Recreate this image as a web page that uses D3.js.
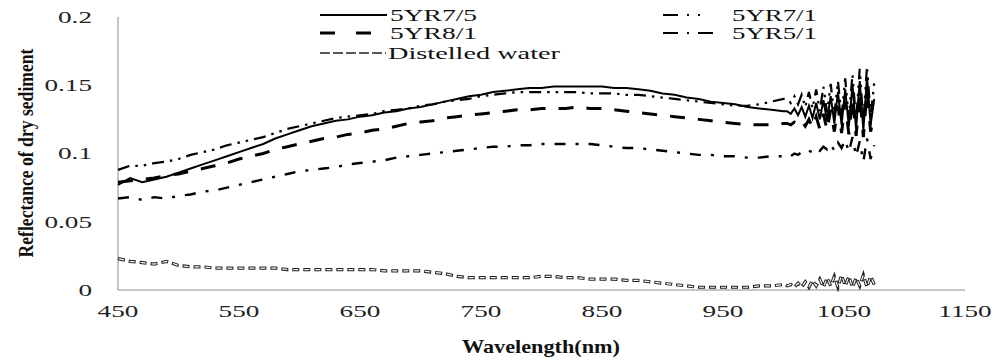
<!DOCTYPE html>
<html><head><meta charset="utf-8">
<script src="https://cdn.jsdelivr.net/npm/d3@7"></script>
<style>body{margin:0;background:#fff}svg{display:block}</style>
</head><body>
<svg id="c" width="995" height="360"></svg>
<script>
const wavelengths = [450,460,470,480,490,500,510,520,530,540,550,560,570,580,590,600,610,620,630,640,650,660,670,680,690,700,710,720,730,740,750,760,770,780,790,800,810,820,830,840,850,860,870,880,890,900,910,920,930,940,950,960,970,980,990,1000,
 1003,1006,1009,1012,1015,1018,1021,1024,1027,1030,1033,1036,1039,1042,1045,1048,1051,1054,1057,1060,1063,1066,1069,1072,1075];
const s7_5 = [0.077,0.082,0.079,0.081,0.083,0.086,0.089,0.092,0.095,0.098,0.101,0.104,0.107,0.111,0.114,0.117,0.120,0.122,0.124,0.125,0.127,0.128,0.130,0.131,0.133,0.134,0.136,0.138,0.140,0.142,0.143,0.145,0.146,0.147,0.148,0.148,0.149,0.149,0.149,0.149,0.149,0.148,0.148,0.147,0.146,0.144,0.143,0.141,0.140,0.138,0.137,0.136,0.134,0.133,0.132,0.131,
 0.131,0.129,0.133,0.128,0.134,0.127,0.135,0.126,0.137,0.125,0.139,0.124,0.142,0.122,0.145,0.121,0.147,0.120,0.150,0.118,0.153,0.117,0.156,0.121,0.140];
const s8_1 = [0.079,0.080,0.081,0.082,0.084,0.085,0.087,0.089,0.091,0.093,0.096,0.098,0.100,0.103,0.105,0.107,0.109,0.111,0.112,0.114,0.115,0.117,0.118,0.120,0.122,0.123,0.124,0.126,0.127,0.128,0.129,0.130,0.131,0.132,0.132,0.133,0.133,0.133,0.134,0.133,0.133,0.132,0.131,0.130,0.129,0.128,0.127,0.126,0.125,0.124,0.123,0.122,0.121,0.121,0.121,0.122,
 0.122,0.121,0.123,0.121,0.124,0.120,0.125,0.119,0.127,0.118,0.129,0.117,0.132,0.116,0.135,0.115,0.138,0.114,0.141,0.113,0.144,0.112,0.146,0.116,0.128];
const s7_1 = [0.088,0.091,0.091,0.093,0.094,0.096,0.099,0.101,0.103,0.106,0.108,0.110,0.112,0.115,0.118,0.120,0.122,0.124,0.126,0.127,0.128,0.129,0.131,0.132,0.133,0.135,0.136,0.138,0.139,0.140,0.142,0.143,0.144,0.145,0.145,0.145,0.145,0.145,0.145,0.144,0.144,0.144,0.143,0.143,0.142,0.141,0.140,0.139,0.138,0.137,0.136,0.135,0.135,0.136,0.138,0.140,
 0.140,0.137,0.142,0.136,0.143,0.134,0.145,0.133,0.147,0.131,0.149,0.130,0.151,0.128,0.153,0.127,0.155,0.126,0.158,0.124,0.162,0.123,0.164,0.127,0.152];
const s5_1 = [0.067,0.068,0.066,0.068,0.067,0.069,0.070,0.072,0.073,0.075,0.077,0.079,0.081,0.083,0.085,0.087,0.088,0.089,0.090,0.092,0.093,0.094,0.095,0.097,0.098,0.099,0.100,0.101,0.102,0.103,0.104,0.105,0.105,0.106,0.106,0.107,0.107,0.107,0.107,0.107,0.106,0.105,0.104,0.104,0.103,0.102,0.101,0.100,0.099,0.099,0.098,0.098,0.097,0.097,0.098,0.098,
 0.099,0.098,0.100,0.099,0.101,0.100,0.102,0.101,0.104,0.102,0.105,0.103,0.107,0.102,0.108,0.104,0.110,0.101,0.112,0.098,0.109,0.094,0.111,0.096,0.106];
const water = [0.023,0.021,0.020,0.019,0.021,0.018,0.017,0.017,0.016,0.016,0.016,0.016,0.016,0.016,0.015,0.015,0.015,0.015,0.015,0.015,0.015,0.015,0.014,0.014,0.014,0.014,0.013,0.012,0.010,0.009,0.009,0.009,0.009,0.009,0.009,0.010,0.010,0.009,0.009,0.008,0.008,0.008,0.007,0.007,0.006,0.005,0.004,0.003,0.002,0.002,0.002,0.002,0.002,0.003,0.003,0.004,
 0.003,0.004,0.002,0.005,0.002,0.006,0.002,0.007,0.003,0.008,0.002,0.009,0.003,0.010,0.002,0.011,0.003,0.010,0.002,0.009,0.003,0.011,0.002,0.010,0.004];
const xTicks = [450,550,650,750,850,950,1050,1150];
const yTicks = [0,0.05,0.1,0.15,0.2];
const yTickLabels = ["0","0.05","0.1","0.15","0.2"];
const seriesNames = ["5YR7/5","5YR8/1","Distelled water","5YR7/1","5YR5/1"];

const svg = d3.select("#c");
const x = d3.scaleLinear().domain([450,1150]).range([118,965]);
const y = d3.scaleLinear().domain([0,0.2]).range([290,17]);
const serif = "'Liberation Serif','Times New Roman',serif";

function stretch(sel, f){
  sel.each(function(){ const w=this.getComputedTextLength(); d3.select(this).attr("textLength", w*f).attr("lengthAdjust","spacingAndGlyphs"); });
}

svg.append("line").attr("x1",x(450)).attr("x2",x(450)).attr("y1",y(0.2)).attr("y2",y(0)).attr("stroke","#8c8c8c").attr("stroke-width",1);
svg.append("line").attr("x1",x(450)).attr("x2",x(1150)).attr("y1",y(0)).attr("y2",y(0)).attr("stroke","#8c8c8c").attr("stroke-width",1);

const yt = svg.append("g").selectAll("text").data(yTicks).join("text")
  .attr("x",92).attr("y",d=>y(d)).attr("dy","0.35em")
  .attr("font-family",serif).attr("font-size",17).attr("fill","#222").text((d,i)=>yTickLabels[i]);
stretch(yt,1.6);
yt.each(function(){ const tl=+d3.select(this).attr("textLength"); d3.select(this).attr("x",92-tl); });

const xt = svg.append("g").selectAll("text").data(xTicks).join("text")
  .attr("y",317).attr("font-family",serif).attr("font-size",17).attr("fill","#222").text(d=>d);
stretch(xt,1.6);
xt.each(function(d){ const tl=+d3.select(this).attr("textLength"); d3.select(this).attr("x",x(d)-tl/2); });

svg.append("text").attr("x",462).attr("y",353).attr("font-family",serif).attr("font-weight","bold")
  .attr("font-size",19).attr("fill","#111").text("Wavelength(nm)").attr("textLength",158).attr("lengthAdjust","spacingAndGlyphs");

const yTitle = svg.append("text").attr("font-family",serif).attr("font-weight","bold")
  .attr("font-size",22).attr("fill","#111").attr("text-anchor","middle").text("Reflectance of dry sediment");
const natural = yTitle.node().getComputedTextLength();
yTitle.attr("transform",`translate(33,153) rotate(-90) scale(${209/natural},1)`);

const pts = arr => wavelengths.map((w,i)=>[w,arr[i]]);
const line = d3.line().x(d=>x(d[0])).y(d=>y(d[1]));

const g = svg.append("g");
g.append("path").attr("d",line(pts(water))).attr("fill","none").attr("stroke","#222").attr("stroke-width",3.2).attr("stroke-dasharray","7,4");
g.append("path").attr("d",line(pts(water))).attr("fill","none").attr("stroke","#fff").attr("stroke-width",1.2).attr("stroke-dasharray","5,6").attr("stroke-dashoffset",-1);
g.append("path").attr("d",line(pts(s5_1))).attr("fill","none").attr("stroke","#000").attr("stroke-width",2.4).attr("stroke-dasharray","11,10,3,10");
g.append("path").attr("d",line(pts(s8_1))).attr("fill","none").attr("stroke","#000").attr("stroke-width",3).attr("stroke-dasharray","15,13");
g.append("path").attr("d",line(pts(s7_1))).attr("fill","none").attr("stroke","#000").attr("stroke-width",2.2).attr("stroke-dasharray","12,6,2.5,6,2.5,6");
g.append("path").attr("d",line(pts(s7_5))).attr("fill","none").attr("stroke","#000").attr("stroke-width",2);

const leg = svg.append("g");
function legText(tx,ty,t,w){ leg.append("text").attr("x",tx).attr("y",ty).attr("dy","0.35em").attr("font-family",serif).attr("font-size",17).attr("fill","#111").text(t).attr("textLength",w).attr("lengthAdjust","spacingAndGlyphs"); }
leg.append("line").attr("x1",320).attr("x2",387).attr("y1",15).attr("y2",15).attr("stroke","#000").attr("stroke-width",2);
legText(390,15,seriesNames[0],87);
leg.append("line").attr("x1",320).attr("x2",387).attr("y1",33).attr("y2",33).attr("stroke","#000").attr("stroke-width",3).attr("stroke-dasharray","15,21,15,30");
legText(390,33,seriesNames[1],87);
leg.append("line").attr("x1",320).attr("x2",386).attr("y1",53).attr("y2",53).attr("stroke","#222").attr("stroke-width",1.5).attr("stroke-dasharray","10,3");
legText(388,53,seriesNames[2],172);
leg.append("line").attr("x1",663).attr("x2",713).attr("y1",15).attr("y2",15).attr("stroke","#000").attr("stroke-width",2).attr("stroke-dasharray","15,9,2,9,2,20");
legText(732,15,seriesNames[3],85);
leg.append("line").attr("x1",663).attr("x2",713).attr("y1",33).attr("y2",33).attr("stroke","#000").attr("stroke-width",2).attr("stroke-dasharray","15,9,2,9,15,20");
legText(732,33,seriesNames[4],85);
</script>
</body></html>
